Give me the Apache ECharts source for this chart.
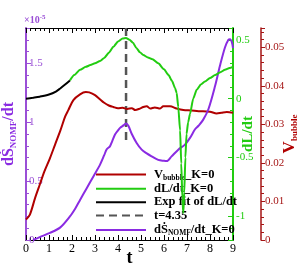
<!DOCTYPE html>
<html><head><meta charset="utf-8">
<script src="https://cdn.jsdelivr.net/npm/echarts@6/dist/echarts.min.js"></script>
<style>html,body{margin:0;padding:0;background:#fff}#c{width:299px;height:265px}</style>
</head><body><div id="c"></div>
<script>
// ---- data ----
const xTicks = [0,1,2,3,4,5,6,7,8,9];
// V_bubble (right red axis)
const redT = [0,0.17,0.4,0.6,0.8,1.04,1.26,1.5,1.7,1.84,2.06,2.35,2.6,2.75,3.0,3.2,3.4,3.6,3.8,4.0,4.2,4.4,4.6,4.75,4.95,5.1,5.25,5.4,5.6,5.83,5.97,6.26,6.55,6.84,7.2,7.5,7.7,8.0,8.29,8.5,8.73,9.0];
const redV = [0.0053,0.0066,0.011,0.0144,0.0178,0.0212,0.0247,0.0285,0.032,0.0337,0.0363,0.0378,0.0384,0.0383,0.0376,0.0366,0.0356,0.0349,0.0345,0.0342,0.0343,0.034,0.0342,0.0337,0.0341,0.0345,0.0347,0.0341,0.0344,0.0341,0.0347,0.0347,0.0341,0.0337,0.0336,0.0334,0.0334,0.0333,0.0328,0.033,0.0332,0.033];
// dL/dt (green axis)
const greenT = [1.91,2.1,2.35,2.6,2.8,3.0,3.22,3.4,3.6,3.8,4.0,4.2,4.35,4.5,4.65,4.8,4.95,5.1,5.3,5.5,5.75,6.0,6.2,6.35,6.48,6.55,6.62,6.7,6.75,6.8,6.84,6.88,6.93,6.98,7.05,7.13,7.27,7.42,7.6,7.78,8.0,8.22,8.45,8.65,8.85,9.0];
const greenV = [0.155,0.2,0.245,0.27,0.285,0.3,0.32,0.345,0.39,0.44,0.485,0.51,0.515,0.5,0.475,0.43,0.395,0.37,0.35,0.335,0.3,0.25,0.2,0.15,0.09,0.05,-0.07,-0.27,-0.55,-0.85,-0.97,-0.8,-0.5,-0.3,-0.2,-0.13,0.0,0.075,0.12,0.145,0.175,0.2,0.225,0.245,0.26,0.27];
// Exp fit of dL/dt (green axis)
const fitT = [0,0.3,0.6,1.0,1.3,1.5,1.7,1.91];
const fitV = [0.0,0.008,0.017,0.035,0.06,0.089,0.12,0.155];
// t = 4.35 marker (green axis)
const markT = [4.35,4.35];
const markV = [0.6,-0.38];
// dS_NOMF/dt (left axis, x1e-5)
const purpT = [0.3,0.6,1.04,1.48,1.91,2.15,2.35,2.64,2.93,3.22,3.4,3.51,3.65,3.75,3.87,4.0,4.09,4.25,4.35,4.45,4.6,4.81,5.03,5.25,5.46,5.75,6.0,6.12,6.33,6.62,6.91,7.13,7.35,7.5,7.7,7.93,8.22,8.43,8.65,8.8,8.87,8.95,9.0];
const purpV = [0.0,0.025,0.06,0.105,0.2,0.27,0.34,0.44,0.54,0.64,0.72,0.77,0.795,0.84,0.895,0.93,0.952,0.975,0.99,0.97,0.9,0.824,0.767,0.735,0.71,0.68,0.672,0.67,0.71,0.767,0.81,0.867,0.94,0.97,1.02,1.11,1.307,1.477,1.634,1.70,1.705,1.68,1.63];

const zip = (a,b) => a.map((v,i)=>[v,b[i]]);
const SERIF = '"Liberation Serif","Times New Roman",serif';
const PURPLE = '#8a2be2', PURPLE_AX = '#9a4fd6';
const GREEN = '#22cc11', RED = '#b00000', RED_AX = '#a51515';

const names = {
  red: 'V_bubble_K=0', green: 'dL/dt_K=0', fit: 'Exp fit of dL/dt', mark: 't=4.35', purp: 'dS_NOMF/dt_K=0'
};
const legendRich = {
  [names.red]: '{b|V}{s|bubble}{b|_K=0}',
  [names.green]: '{b|dL/dt_K=0}',
  [names.fit]: '{b|Exp fit of dL/dt}',
  [names.mark]: '{b|t=4.35}',
  [names.purp]: '{b|d\u1E60}{s|NOMF}{b|/dt_K=0}'
};

const chart = echarts.init(document.getElementById('c'), null, {renderer:'canvas'});
const xCommon = {
  type:'value', min:0, max:9, interval:1,
  axisLine:{onZero:false, lineStyle:{color:'#000', width:1}},
  axisTick:{inside:true, length:5, lineStyle:{color:'#000'}},
  minorTick:{show:true, splitNumber:5, length:3, lineStyle:{color:'#000'}},
  splitLine:{show:false}, minorSplitLine:{show:false}
};
chart.setOption({
  animation:false,
  backgroundColor:'#fff',
  title:{text:'{a|\u00D710}{b|-5}', left:24, top:14, padding:0,
    textStyle:{rich:{a:{fontFamily:SERIF, fontSize:10, color:PURPLE_AX, lineHeight:12},
                     b:{fontFamily:SERIF, fontSize:7, color:PURPLE_AX, lineHeight:12, verticalAlign:'top'}}}},
  grid:{left:26, right:66, top:28, bottom:25, containLabel:false, outerBoundsMode:'none'},
  legend:{
    orient:'vertical', left:95, top:167, padding:0, itemWidth:50, itemHeight:13, itemGap:0.35,
    selectedMode:false, z:1, itemStyle:{opacity:0},
    data:[names.red, names.green, names.fit, names.mark, names.purp],
    formatter: n => legendRich[n],
    textStyle:{padding:[0,0,0,3], rich:{
      b:{fontFamily:SERIF, fontWeight:'bold', fontSize:12.5, color:'#000', lineHeight:13},
      s:{fontFamily:SERIF, fontWeight:'bold', fontSize:7.5, color:'#000', lineHeight:13, padding:[7,0,0,0]}
    }}
  },
  xAxis:[
    Object.assign({}, xCommon, {position:'bottom', name:'t', nameLocation:'middle', nameGap:9, nameMoveOverlap:false,
      nameTextStyle:{fontFamily:SERIF, fontWeight:'bold', fontSize:18, color:'#000'},
      axisLabel:{margin:3, fontFamily:SERIF, fontSize:12, color:'#000',
        formatter: v => xTicks.includes(v) ? String(v) : ''}}),
    Object.assign({}, xCommon, {position:'top', axisLabel:{show:false}})
  ],
  yAxis:[
    { type:'value', min:0, max:1.8, interval:0.5, position:'left',
      name:'{a|d\u1E60}{s|NOMF}{a|/dt}', nameLocation:'middle', nameGap:8, nameRotate:90, nameMoveOverlap:false,
      nameTextStyle:{rich:{
        a:{fontFamily:SERIF, fontWeight:'bold', fontSize:16, color:PURPLE, lineHeight:18},
        s:{fontFamily:SERIF, fontWeight:'bold', fontSize:9, color:PURPLE, lineHeight:18, padding:[9,0,0,0]}}},
      axisLine:{show:true, onZero:false, lineStyle:{color:PURPLE_AX, width:2}},
      axisTick:{inside:true, length:5, lineStyle:{color:PURPLE_AX}},
      minorTick:{show:true, splitNumber:5, length:3, lineStyle:{color:PURPLE_AX}},
      axisLabel:{inside:true, margin:3, fontFamily:SERIF, fontSize:11, color:PURPLE_AX, showMaxLabel:false},
      splitLine:{show:false} },
    { type:'value', min:-1.2, max:0.6, splitNumber:4, position:'right',
      name:'dL/dt', nameLocation:'middle', nameGap:8, nameRotate:90, nameMoveOverlap:false,
      nameTextStyle:{fontFamily:SERIF, fontWeight:'bold', fontSize:15, color:GREEN},
      axisLine:{show:true, onZero:false, lineStyle:{color:GREEN, width:2}},
      axisTick:{inside:true, length:5, lineStyle:{color:GREEN}},
      minorTick:{show:true, splitNumber:5, length:3, lineStyle:{color:GREEN}},
      axisLabel:{margin:3, fontFamily:SERIF, fontSize:11, color:GREEN, showMaxLabel:false, showMinLabel:false},
      splitLine:{show:false} },
    { type:'value', min:0, max:0.055, interval:0.01, position:'right', offset:28,
      name:'{a|V}{s|bubble}', nameLocation:'middle', nameGap:20, nameRotate:90, nameMoveOverlap:false,
      nameTextStyle:{rich:{
        a:{fontFamily:SERIF, fontWeight:'bold', fontSize:17, color:RED, lineHeight:18},
        s:{fontFamily:SERIF, fontWeight:'bold', fontSize:9, color:RED, lineHeight:18, padding:[9,0,0,0]}}},
      axisLine:{show:true, onZero:false, lineStyle:{color:RED_AX, width:1.5}},
      axisTick:{inside:false, length:4, lineStyle:{color:RED_AX}},
      minorTick:{show:true, splitNumber:5, length:3, lineStyle:{color:RED_AX}},
      axisLabel:{margin:4, fontFamily:SERIF, fontSize:11, color:RED_AX, showMaxLabel:false},
      splitLine:{show:false} }
  ],
  series:[
    {name:names.red, type:'line', xAxisIndex:0, yAxisIndex:2, data:zip(redT,redV), symbol:'none', smooth:0.3,
      lineStyle:{color:RED, width:2}, itemStyle:{color:RED}, z:3},
    {name:names.green, type:'line', xAxisIndex:0, yAxisIndex:1, data:zip(greenT,greenV), symbol:'none', smooth:0.2, smoothMonotone:'x',
      lineStyle:{color:GREEN, width:2}, itemStyle:{color:GREEN}, z:4},
    {name:names.fit, type:'line', xAxisIndex:0, yAxisIndex:1, data:zip(fitT,fitV), symbol:'none', smooth:0.3,
      lineStyle:{color:'#000', width:2}, itemStyle:{color:'#000'}, z:4},
    {name:names.mark, type:'line', xAxisIndex:0, yAxisIndex:1, data:zip(markT,markV), symbol:'none',
      lineStyle:{color:'#555', width:2.5, type:[8,5]}, itemStyle:{color:'#555'}, z:2},
    {name:names.purp, type:'line', xAxisIndex:0, yAxisIndex:0, data:zip(purpT,purpV), symbol:'none', smooth:0.3,
      lineStyle:{color:PURPLE, width:2}, itemStyle:{color:PURPLE}, z:3}
  ]
});
</script></body></html>
